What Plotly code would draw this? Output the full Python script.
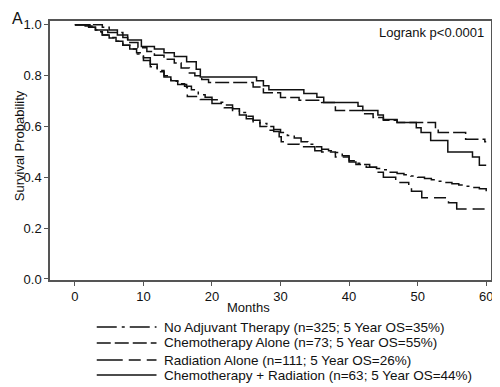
import plotly.graph_objects as go

# ---- data ----
noadj_t = [0, 1.5, 2.5, 3.2, 4, 5, 6, 7, 8, 9, 10, 11, 12, 13, 14, 15, 16, 17, 18, 19, 20,
           21, 22, 23, 24, 25, 26, 27, 28, 29, 30, 31, 32, 33, 34, 35, 36, 37, 38, 39, 40,
           41, 42, 43, 44, 45, 46, 47, 48, 49, 50, 51, 52, 53, 54, 55, 56, 57, 58, 59, 60]
noadj_s = [1.0, 0.995, 0.98, 0.972, 0.96, 0.948, 0.935, 0.92, 0.905, 0.885, 0.86, 0.835, 0.815,
           0.795, 0.778, 0.768, 0.758, 0.745, 0.725, 0.715, 0.705, 0.695, 0.685, 0.67, 0.655,
           0.64, 0.625, 0.612, 0.60, 0.588, 0.576, 0.565, 0.555, 0.54, 0.53, 0.52, 0.51, 0.505,
           0.498, 0.485, 0.465, 0.455, 0.45, 0.44, 0.435, 0.43, 0.42, 0.415, 0.41, 0.405, 0.40,
           0.395, 0.39, 0.385, 0.38, 0.375, 0.37, 0.365, 0.36, 0.355, 0.345]

chemo_t = [0, 4, 5, 6.2, 7, 7.7, 9.2, 10.5, 11.6, 13, 14.5, 15.5, 16.7, 17.5, 18.5, 19.5, 26,
           27.5, 30, 32.7, 36, 38, 42, 43.5, 45, 47, 52.6, 53, 57, 59.8, 60]
chemo_s = [1.0, 0.99, 0.98, 0.97, 0.95, 0.93, 0.91, 0.895, 0.88, 0.865, 0.85, 0.83, 0.81, 0.80,
           0.785, 0.773, 0.755, 0.733, 0.714, 0.703, 0.694, 0.663, 0.65, 0.635, 0.625, 0.616,
           0.59, 0.576, 0.55, 0.54, 0.54]

rad_t = [0, 2, 3, 4, 5, 6, 7, 8, 9, 10, 11, 12, 13, 14, 15, 16.3, 16.4, 18.3, 20, 21.8, 23,
         24, 25, 26, 27, 28, 29, 29.8, 30.1, 31, 32.7, 35, 36, 38, 40, 41, 42.5, 44, 45, 46.8,
         48.7, 49.1, 50.6, 54.5, 55.7, 59.9, 60]
rad_s = [1.0, 0.99, 0.973, 0.96, 0.95, 0.935, 0.92, 0.905, 0.89, 0.87, 0.845, 0.82, 0.80, 0.78,
         0.765, 0.753, 0.718, 0.706, 0.69, 0.674, 0.66, 0.645, 0.63, 0.615, 0.60, 0.585, 0.58,
         0.56, 0.54, 0.53, 0.52, 0.505, 0.50, 0.48, 0.46, 0.45, 0.44, 0.42, 0.40, 0.38, 0.373,
         0.345, 0.32, 0.30, 0.275, 0.262, 0.262]

crt_t = [0, 2.2, 3, 4.8, 6.2, 7.7, 9.7, 11.6, 13, 14.5, 16.3, 17.7, 18.3, 26.5, 27.5, 28.3,
         33.4, 35.3, 36.3, 41.3, 42, 44.2, 45, 47, 49.8, 50.5, 51.9, 54.4, 58, 59, 60]
crt_s = [1.0, 0.99, 0.98, 0.97, 0.96, 0.94, 0.915, 0.905, 0.89, 0.875, 0.855, 0.825, 0.795,
         0.78, 0.76, 0.745, 0.73, 0.715, 0.694, 0.68, 0.663, 0.645, 0.627, 0.616, 0.595, 0.576,
         0.545, 0.50, 0.48, 0.447, 0.447]

labels = ["No Adjuvant Therapy (n=325; 5 Year OS=35%)",
          "Chemotherapy Alone (n=73; 5 Year OS=55%)",
          "Radiation Alone (n=111; 5 Year OS=26%)",
          "Chemotherapy + Radiation (n=63; 5 Year OS=44%)"]
x_ticks = [0, 10, 20, 30, 40, 50, 60]
y_ticks = [0.0, 0.2, 0.4, 0.6, 0.8, 1.0]

# ---- styles ----
FONT = "Liberation Sans, Arial, sans-serif"
dashes = ["20px,5px,3px,5px", "14px,4px", "26px,6px,12px,6px", "solid"]
series = [(noadj_t, noadj_s), (chemo_t, chemo_s), (rad_t, rad_s), (crt_t, crt_s)]

fig = go.Figure()
for (t, s), d, name in zip(series, dashes, labels):
    fig.add_trace(go.Scatter(x=t, y=s, mode="lines",
                             line=dict(color="#111", width=1.5, dash=d, shape="hv"),
                             name=name, showlegend=False))

# the page body adds an 8px margin, so the figure is 8px smaller in each direction
fig.update_layout(
    width=492, height=379,
    margin=dict(l=42, r=7, t=13, b=107),
    paper_bgcolor="white", plot_bgcolor="white",
    font=dict(family=FONT, size=13, color="#111"),
    xaxis=dict(range=[-3.63, 60.7], tickvals=x_ticks, ticktext=[str(v) for v in x_ticks],
               showline=True, mirror=True, linecolor="#555", linewidth=1.5, showgrid=False,
               zeroline=False, ticks="outside", ticklen=4, tickcolor="#555",
               tickfont=dict(size=13)),
    yaxis=dict(range=[-0.004, 1.015], tickvals=y_ticks, ticktext=["%.1f" % v for v in y_ticks],
               showline=True, mirror=True, linecolor="#555", linewidth=1.5, showgrid=False,
               zeroline=False, ticks="outside", ticklen=4, tickcolor="#555",
               tickfont=dict(size=13)),
)

ann = [
    dict(text="A", x=-0.088, y=1.048, xref="paper", yref="paper", xanchor="left",
         yanchor="top", showarrow=False, borderpad=0, font=dict(size=16)),
    dict(text="Logrank p<0.0001", x=0.989, y=0.957, xref="paper", yref="paper", xanchor="right",
         yanchor="middle", showarrow=False, font=dict(size=13)),
    dict(text="Months", x=0.451, y=-0.106, xref="paper", yref="paper", xanchor="center",
         yanchor="middle", showarrow=False, font=dict(size=13)),
    dict(text="Survival Probability", x=-0.070, y=0.517, xref="paper", yref="paper",
         textangle=-90, xanchor="center", yanchor="middle", showarrow=False,
         font=dict(size=13)),
]
rows_y = [-0.1815, -0.2432, -0.309, -0.3668]
for lab, d, ry in zip(labels, dashes, rows_y):
    ann.append(dict(text=lab, x=0.255, y=ry, xref="paper", yref="paper", xanchor="left",
                    yanchor="middle", showarrow=False, font=dict(size=13.5)))
    fig.add_shape(type="line", xref="paper", yref="paper", x0=0.106, x1=0.2415, y0=ry, y1=ry,
                  line=dict(color="#111", width=1.5, dash=d))
fig.update_layout(annotations=ann)

fig.write_html("out.html")
